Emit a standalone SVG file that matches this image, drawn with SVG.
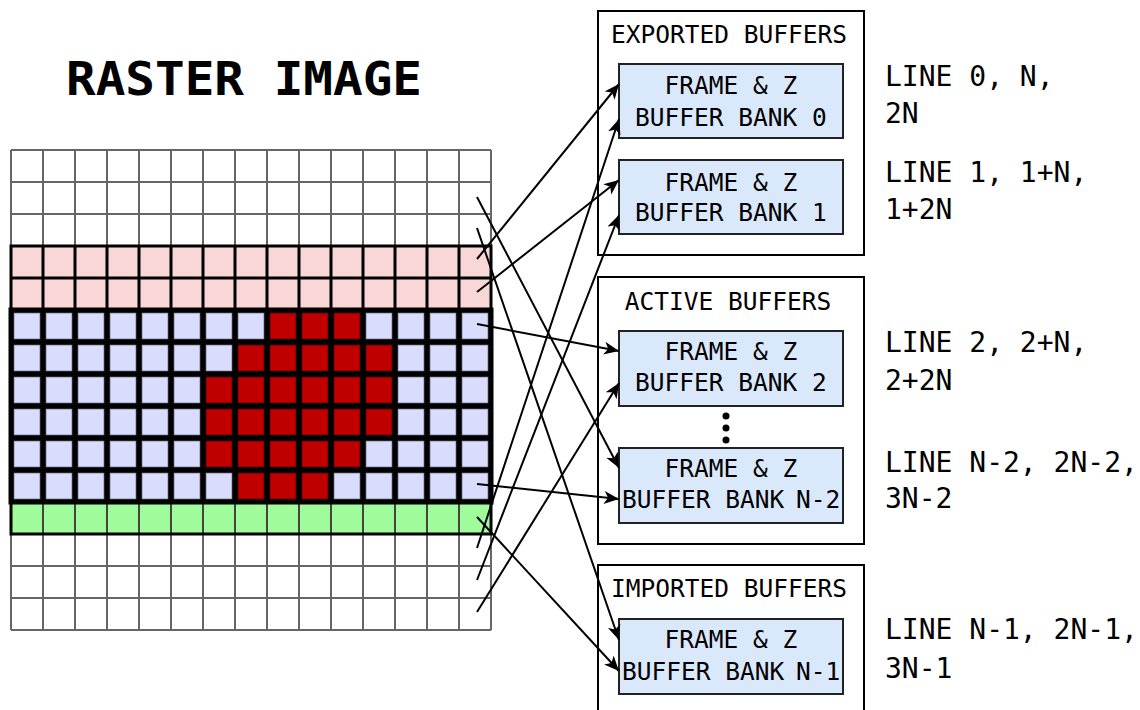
<svg xmlns="http://www.w3.org/2000/svg" width="1140" height="710" viewBox="0 0 1140 710">
  <style>
    .mono { font-family: "DejaVu Sans Mono", "Liberation Mono", monospace; fill: #000; }
    .title { font-size: 46px; font-weight: bold; }
    .box-t { font-size: 24.5px; text-anchor: middle; }
    .box-l { font-size: 24.5px; }
    .lbl { font-size: 28px; }
    .outer { fill: #fff; stroke: #000; stroke-width: 2; }
    .bank { fill: #dae8fc; stroke: #222; stroke-width: 2; }
    .conn { stroke: #000; stroke-width: 2; fill: none; marker-end: url(#arr); }
  </style>
  <defs>
    <pattern id="bluecell" patternUnits="userSpaceOnUse" x="11" y="310" width="32" height="32">
      <rect x="0" y="0" width="32" height="32" fill="#000"/>
      <rect x="3" y="3" width="26" height="26" fill="#dadcfe" stroke="#8c8ca8" stroke-width="1"/>
    </pattern>
    <pattern id="redcell" patternUnits="userSpaceOnUse" x="11" y="310" width="32" height="32">
      <rect x="0" y="0" width="32" height="32" fill="#000"/>
      <rect x="3" y="3" width="26" height="26" fill="#c00000" stroke="#700000" stroke-width="1"/>
    </pattern>
    <marker id="arr" markerWidth="16" markerHeight="14" refX="15" refY="6.5" orient="auto" markerUnits="userSpaceOnUse">
      <path d="M0,0 L15,6.5 L0,13 L4,6.5 Z" fill="#000"/>
    </marker>
  </defs>

  <text class="mono title" x="66" y="95" textLength="356" lengthAdjust="spacingAndGlyphs">RASTER IMAGE</text>

  <g id="raster-grid">
    <rect x="11" y="150" width="480" height="96" fill="#fff"/>
    <path d="M11 150V246M43 150V246M75 150V246M107 150V246M139 150V246M171 150V246M203 150V246M235 150V246M267 150V246M299 150V246M331 150V246M363 150V246M395 150V246M427 150V246M459 150V246M491 150V246M11 150H491M11 182H491M11 214H491" stroke="#666" stroke-width="2" fill="none"/>
    <rect x="11" y="534" width="480" height="96" fill="#fff"/>
    <path d="M11 534V630M43 534V630M75 534V630M107 534V630M139 534V630M171 534V630M203 534V630M235 534V630M267 534V630M299 534V630M331 534V630M363 534V630M395 534V630M427 534V630M459 534V630M491 534V630M11 566H491M11 598H491M11 630H491" stroke="#666" stroke-width="2" fill="none"/>
    <rect x="11" y="246" width="480" height="64" fill="#fad7d7"/>
    <path d="M43 246V310M75 246V310M107 246V310M139 246V310M171 246V310M203 246V310M235 246V310M267 246V310M299 246V310M331 246V310M363 246V310M395 246V310M427 246V310M459 246V310M11 278H491" stroke="#000" stroke-width="3" fill="none"/>
    <rect x="11" y="246" width="480" height="64" fill="none" stroke="#000" stroke-width="3"/>
    <rect x="11" y="502" width="480" height="32" fill="#a0fb9a"/>
    <path d="M43 502V534M75 502V534M107 502V534M139 502V534M171 502V534M203 502V534M235 502V534M267 502V534M299 502V534M331 502V534M363 502V534M395 502V534M427 502V534M459 502V534" stroke="#444" stroke-width="2" fill="none"/>
    <rect x="11" y="502" width="480" height="32" fill="none" stroke="#000" stroke-width="3"/>
    <rect x="11" y="310" width="480" height="192" fill="url(#bluecell)"/>
    <rect x="267" y="310" width="96" height="32" fill="url(#redcell)"/>
    <rect x="235" y="342" width="160" height="32" fill="url(#redcell)"/>
    <rect x="203" y="374" width="192" height="64" fill="url(#redcell)"/>
    <rect x="203" y="438" width="160" height="32" fill="url(#redcell)"/>
    <rect x="235" y="470" width="96" height="32" fill="url(#redcell)"/>
    <path d="M43 310V502M75 310V502M107 310V502M139 310V502M171 310V502M203 310V502M235 310V502M267 310V502M299 310V502M331 310V502M363 310V502M395 310V502M427 310V502M459 310V502M11 342H491M11 374H491M11 406H491M11 438H491M11 470H491" stroke="#000" stroke-width="5" fill="none"/>
    <rect x="11" y="310" width="480" height="192" fill="none" stroke="#000" stroke-width="5"/>
  </g>

  <g id="exported-buffers">
    <rect class="outer" x="598" y="11" width="266" height="244"/>
    <text class="mono box-t" x="729" y="43">EXPORTED BUFFERS</text>
  </g>
  <g id="bank-0">
    <rect class="bank" x="619" y="64" width="224" height="74"/>
    <text class="mono box-t" x="731" y="94">FRAME &amp; Z</text>
    <text class="mono box-t" x="731" y="125.5">BUFFER BANK 0</text>
  </g>
  <g id="bank-1">
    <rect class="bank" x="619" y="160" width="224" height="74"/>
    <text class="mono box-t" x="731" y="190.5">FRAME &amp; Z</text>
    <text class="mono box-t" x="731" y="221">BUFFER BANK 1</text>
  </g>

  <g id="active-buffers">
    <rect class="outer" x="598" y="277" width="266" height="267"/>
    <text class="mono box-t" x="728" y="310">ACTIVE BUFFERS</text>
    <circle cx="726" cy="416" r="3.5" fill="#000"/>
    <circle cx="726" cy="428" r="3.5" fill="#000"/>
    <circle cx="726" cy="440" r="3.5" fill="#000"/>
  </g>
  <g id="bank-2">
    <rect class="bank" x="619" y="331" width="224" height="75"/>
    <text class="mono box-t" x="731" y="360">FRAME &amp; Z</text>
    <text class="mono box-t" x="731" y="391">BUFFER BANK 2</text>
  </g>
  <g id="bank-n-2">
    <rect class="bank" x="619" y="448" width="224" height="75"/>
    <text class="mono box-t" x="731" y="477">FRAME &amp; Z</text>
    <text class="mono box-l" x="622" y="508">BUFFER BANK<tspan x="796">N-2</tspan></text>
  </g>

  <g id="imported-buffers">
    <rect class="outer" x="598" y="565" width="266" height="160"/>
    <text class="mono box-t" x="729" y="597">IMPORTED BUFFERS</text>
  </g>
  <g id="bank-n-1">
    <rect class="bank" x="619" y="619" width="224" height="75"/>
    <text class="mono box-t" x="731" y="648">FRAME &amp; Z</text>
    <text class="mono box-l" x="622" y="680">BUFFER BANK<tspan x="796">N-1</tspan></text>
  </g>

  <g id="line-labels">
    <text class="mono lbl" x="885" y="86">LINE 0, N,</text>
    <text class="mono lbl" x="885" y="123">2N</text>
    <text class="mono lbl" x="885" y="182">LINE 1, 1+N,</text>
    <text class="mono lbl" x="885" y="218.5">1+2N</text>
    <text class="mono lbl" x="885" y="352">LINE 2, 2+N,</text>
    <text class="mono lbl" x="885" y="390">2+2N</text>
    <text class="mono lbl" x="885" y="472">LINE N-2, 2N-2,</text>
    <text class="mono lbl" x="885" y="508">3N-2</text>
    <text class="mono lbl" x="885" y="639">LINE N-1, 2N-1,</text>
    <text class="mono lbl" x="885" y="678">3N-1</text>
  </g>

  <g id="connectors">
    <line class="conn" x1="477" y1="259" x2="619" y2="84"/>
    <line class="conn" x1="477" y1="292" x2="619" y2="180"/>
    <line class="conn" x1="477" y1="324" x2="619" y2="351"/>
    <line class="conn" x1="477" y1="484" x2="619" y2="499"/>
    <line class="conn" x1="477" y1="517" x2="619" y2="671"/>
    <line class="conn" x1="477" y1="548" x2="619" y2="119"/>
    <line class="conn" x1="477" y1="580" x2="619" y2="215"/>
    <line class="conn" x1="477" y1="612" x2="619" y2="383"/>
    <line class="conn" x1="477" y1="197" x2="619" y2="468"/>
    <line class="conn" x1="477" y1="228" x2="619" y2="640"/>
  </g>
</svg>
